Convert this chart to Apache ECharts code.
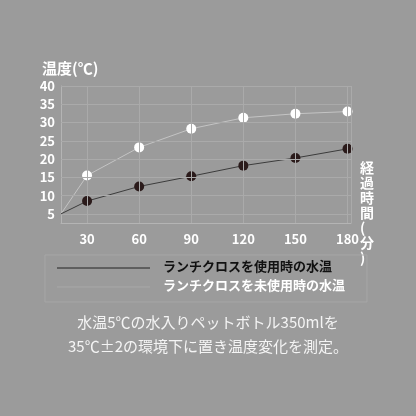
<!DOCTYPE html><html><head><meta charset="utf-8"><script src="https://cdn.jsdelivr.net/npm/echarts@6/dist/echarts.min.js"></script>
<style>body{margin:0;background:#9b9b9b}#c{width:416px;height:416px}</style></head><body><div id="c"></div><script>
const times=[15,30,60,90,120,150,180];
const usedTemp=[5,8.5,12.5,15.3,18.2,20.3,22.8];
const unusedTemp=[5,15.5,23.2,28.3,31.3,32.4,33.0];
const xTicks=[30,60,90,120,150,180];
const yTicks=[5,10,15,20,25,30,35,40];
const F='"Noto Sans CJK JP",sans-serif';
const pts=(v)=>times.map((t,i)=>({value:[t,v[i]],symbolSize:i===0?0:10}));
const chart=echarts.init(document.getElementById('c'));
chart.setOption({
 backgroundColor:'#9b9b9b',animation:false,
 grid:{left:61,right:65,top:86,bottom:193},
 xAxis:{type:'value',min:15,max:182,splitLine:{show:false},
  axisLine:{lineStyle:{color:'#b4b4b4'}},axisTick:{show:false},
  axisLabel:{customValues:xTicks,color:'#fff',fontSize:13,fontWeight:'bold',fontFamily:F,margin:10}},
 yAxis:{type:'value',min:2.5,max:40,interval:2.5,splitLine:{show:false},
  axisLine:{show:true,lineStyle:{color:'#b4b4b4'}},axisTick:{show:false},
  axisLabel:{customValues:yTicks,color:'#fff',fontSize:13,fontWeight:'bold',fontFamily:F,margin:6,align:'right'}},
 series:[
  {type:'line',data:pts(unusedTemp),symbol:'circle',itemStyle:{color:'#ffffff'},lineStyle:{color:'#c4c4c4',width:1},z:3,
   markLine:{silent:true,symbol:'none',label:{show:false},lineStyle:{color:'#aaaaaa',type:'solid',width:1},
    data:yTicks.map(v=>({yAxis:v})).concat(xTicks.map(v=>({xAxis:v}))).concat([{xAxis:182}])}},
  {type:'line',data:pts(usedTemp),symbol:'circle',itemStyle:{color:'#2b1b1b'},lineStyle:{color:'#3c3c3c',width:1},z:4}
 ],
 graphic:[
  {type:'text',left:42,top:61,style:{text:'温度(℃)',fill:'#fff',font:'bold 15px '+F}},
  {type:'text',left:360,top:160,style:{text:'経\n過\n時\n間\n(\n分\n)',fill:'#fff',font:'bold 14px '+F,lineHeight:15,align:'left'}},
  {type:'rect',shape:{x:45,y:255,width:322,height:47},style:{fill:'none',stroke:'#a6a6a6',lineWidth:1}},
  {type:'line',shape:{x1:57,y1:268,x2:150,y2:268},style:{stroke:'#222',lineWidth:1}},
  {type:'line',shape:{x1:57,y1:287,x2:150,y2:287},style:{stroke:'#a8a8a8',lineWidth:1}},
  {type:'text',left:163,top:260,style:{text:'ランチクロスを使用時の水温',fill:'#111',font:'bold 13px '+F}},
  {type:'text',left:163,top:279,style:{text:'ランチクロスを未使用時の水温',fill:'#fff',font:'bold 13px '+F}},
  {type:'text',left:'center',top:315,style:{text:'水温5℃の水入りペットボトル350mlを',fill:'#f4f4f4',font:'15px '+F}},
  {type:'text',left:'center',top:339,style:{text:'35℃±2の環境下に置き温度変化を測定。',fill:'#f4f4f4',font:'15px '+F}}
 ]
});
</script></body></html>
